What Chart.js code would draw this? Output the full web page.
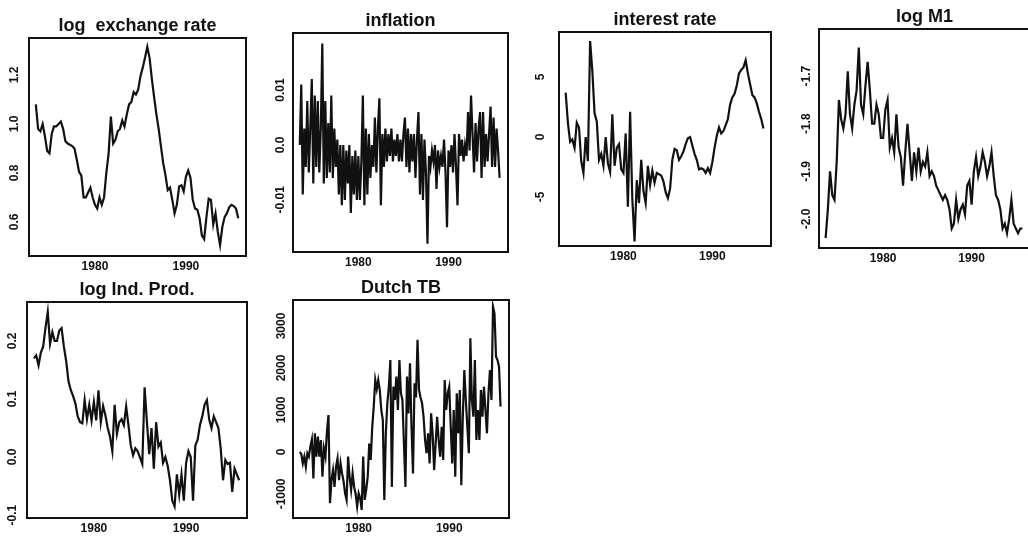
<!DOCTYPE html>
<html>
<head>
<meta charset="utf-8">
<script src="https://cdn.jsdelivr.net/npm/chart.js@4.4.1/dist/chart.umd.min.js"></script>
<style>
  html, body { margin: 0; padding: 0; background: #fff; overflow: hidden; }
  body { width: 1028px; height: 538px; position: relative; }
  .panel { position: absolute; }
</style>
</head>
<body>
<script>
// values; smooth series quarterly, noisy ones every two months
const firstObs = 1973.5;
const xTicks = [1980, 1990];

const exchangeRate = [
  1.08, 0.98, 0.97, 1.00, 0.95, 0.89, 0.88, 0.96, 0.99, 0.99,
  1.00, 1.01, 0.98, 0.93, 0.92, 0.915, 0.91, 0.90, 0.855, 0.805,
  0.79, 0.70, 0.70, 0.72, 0.74, 0.70, 0.67, 0.655, 0.70, 0.67,
  0.70, 0.80, 0.88, 1.03, 0.92, 0.935, 0.97, 0.98, 1.015, 0.99,
  1.04, 1.08, 1.09, 1.13, 1.12, 1.14, 1.195, 1.23, 1.27, 1.315,
  1.27, 1.185, 1.11, 1.04, 0.98, 0.91, 0.84, 0.79, 0.73, 0.74,
  0.69, 0.635, 0.67, 0.745, 0.75, 0.725, 0.785, 0.81, 0.78, 0.69,
  0.655, 0.65, 0.615, 0.545, 0.53, 0.62, 0.695, 0.69, 0.59, 0.635,
  0.56, 0.505, 0.58, 0.62, 0.635, 0.66, 0.67, 0.665, 0.655, 0.615
];
const inflation = [
  0.000, 0.011, -0.009, 0.003, -0.004, 0.008, -0.005, 0.003, 0.012, -0.007,
  0.009, -0.004, 0.008, -0.005, 0.003, 0.0185, -0.007, 0.008, -0.006, 0.004,
  -0.005, 0.009, -0.006, 0.003, -0.004, 0.001, -0.009, 0.000, -0.011, 0.000,
  -0.010, -0.001, -0.007, 0.000, -0.0124, -0.002, -0.009, -0.001, -0.010, -0.002,
  -0.010, -0.003, 0.009, -0.011, 0.003, -0.009, 0.002, -0.006, 0.000, -0.004,
  0.005, -0.005, 0.003, 0.0085, -0.011, 0.002, -0.004, 0.003, -0.003, 0.002,
  -0.002, 0.003, -0.003, 0.001, -0.002, 0.002, -0.003, 0.001, -0.003, 0.002,
  0.005, -0.004, 0.003, -0.005, 0.002, -0.003, 0.002, -0.006, 0.001, 0.006,
  -0.009, 0.002, -0.010, 0.001, -0.005, -0.018, -0.002, -0.004, -0.001, -0.003,
  0.000, -0.008, -0.001, -0.004, -0.002, -0.004, 0.001, -0.005, -0.015, -0.001,
  -0.004, 0.000, -0.005, 0.002, -0.004, -0.011, 0.002, -0.002, 0.001, -0.003,
  0.000, -0.002, 0.006, -0.001, 0.009, 0.002, -0.005, 0.004, -0.003, 0.003,
  0.006, -0.006, 0.006, -0.004, 0.002, -0.003, 0.002, 0.007, -0.004, 0.005,
  -0.004, 0.003, -0.001, -0.006
];
const interestRate = [
  3.7, 1.2, -0.4, -0.2, -0.9, 1.2, 0.8, -2.0, -3.0, 0.0,
  -2.0, 8.0, 5.5, 2.0, 1.3, -1.9, -1.4, -2.4, 0.0, -2.2,
  -2.9, 1.9, -2.4, -0.9, -0.6, -2.7, -3.0, 0.3, -5.8, 2.1,
  -5.2, -8.7, -3.6, -5.5, -1.9, -4.5, -5.5, -2.4, -4.0, -2.8,
  -3.8, -3.0, -3.1, -3.2, -3.7, -4.6, -5.1, -4.3, -1.9, -1.0,
  -1.1, -1.9, -1.6, -1.2, -0.6, -0.1, 0.0, -0.7, -1.4, -1.9,
  -2.7, -2.6, -2.7, -3.0, -2.6, -3.0, -2.1, -0.9, 0.1, 0.8,
  0.3, 0.5, 1.0, 1.5, 2.7, 3.3, 3.6, 4.3, 5.3, 5.6,
  5.8, 6.4, 5.3, 4.4, 3.5, 3.3, 2.8, 2.1, 1.5, 0.7
];
const logM1 = [
  -2.04, -1.98, -1.90, -1.95, -1.96, -1.88, -1.75, -1.79, -1.81, -1.78,
  -1.69, -1.78, -1.81, -1.76, -1.73, -1.64, -1.76, -1.78, -1.72, -1.67,
  -1.73, -1.80, -1.80, -1.76, -1.78, -1.83, -1.83, -1.77, -1.75, -1.85,
  -1.83, -1.86, -1.78, -1.85, -1.87, -1.93, -1.86, -1.80, -1.86, -1.92,
  -1.86, -1.90, -1.85, -1.90, -1.88, -1.89, -1.86, -1.91, -1.90, -1.91,
  -1.93, -1.94, -1.95, -1.96, -1.95, -1.96, -1.98, -2.02, -2.01, -1.96,
  -2.00, -1.98, -1.97, -1.99, -1.93, -1.92, -1.97, -1.90, -1.87, -1.91,
  -1.89, -1.86, -1.88, -1.91, -1.89, -1.86, -1.91, -1.95, -1.96, -1.98,
  -2.02, -2.01, -2.03, -2.00, -1.96, -2.01, -2.02, -2.03, -2.02, -2.02
];
const logIndProd = [
  0.170, 0.175, 0.158, 0.180, 0.190, 0.222, 0.250, 0.195, 0.215, 0.200,
  0.200, 0.218, 0.222, 0.190, 0.165, 0.130, 0.115, 0.105, 0.092, 0.070,
  0.060, 0.058, 0.098, 0.065, 0.090, 0.063, 0.095, 0.063, 0.115, 0.060,
  0.088, 0.072, 0.050, 0.035, 0.010, 0.090, 0.040, 0.060, 0.065, 0.055,
  0.087, 0.055, 0.020, 0.003, 0.015, 0.010, -0.001, -0.012, 0.120, 0.060,
  0.005, 0.050, -0.020, 0.060, 0.018, 0.025, -0.010, 0.000, -0.015, -0.040,
  -0.075, -0.085, -0.030, -0.065, -0.030, -0.075, -0.010, 0.010, 0.000, -0.075,
  0.020, 0.030, 0.055, 0.070, 0.090, 0.098, 0.065, 0.050, 0.070, 0.060,
  0.050, 0.015, -0.040, -0.005, -0.012, -0.010, -0.060, -0.020, -0.030, -0.040
];
const dutchTB = [
  0, -50, -270, -110, -350, -30, -110, 127, 300, -630,
  445, -110, 365, -110, 285, -590, 87, -110, 500, 880,
  -1220, -670, -430, -830, -350, -150, -670, -270, -510, -700,
  -985, -1140, -110, -590, -900, -510, -830, -1000, -1300, -985,
  -1100, -1380, -110, -1140, -900, -590, 200, -190, 600, 1080,
  1715, 1500, 1715, 1475, 1000, 760, -1140, 445, 1160, 1555,
  2190, -830, 1555, 1240, 1795, 1000, 2190, 1400, 1240, 200,
  -830, 1795, 920, 2110, 600, -510, 1635, 1300, 2670, 1475,
  1300, 1160, 840, 285, -30, 445, -270, 920, 445, -430,
  200, 840, 285, -110, 600, -190, 1715, 1000, 1400, 1555,
  600, -270, 1000, -590, 1400, 445, 1475, -790, 840, 1950,
  1240, 600, -30, 2710, 1240, 840, 2190, 285, 1000, 285,
  1475, 840, 1555, 1000, 445, 1400, 1950, 1240, 3460, 3300,
  2270, 2190, 2030, 1080
];

const exchangeTicks = [0.6, 0.8, 1.0, 1.2];
const exchangeTickLabels = ['0.6', '0.8', '1.0', '1.2'];
const inflationTicks = [-0.01, 0, 0.01];
const inflationTickLabels = ['-0.01', '0.0', '0.01'];
const interestTicks = [-5, 0, 5];
const interestTickLabels = ['-5', '0', '5'];
const m1Ticks = [-2.0, -1.9, -1.8, -1.7];
const m1TickLabels = ['-2.0', '-1.9', '-1.8', '-1.7'];
const indProdTicks = [-0.1, 0, 0.1, 0.2];
const indProdTickLabels = ['-0.1', '0.0', '0.1', '0.2'];
const tbTicks = [-1000, 0, 1000, 2000, 3000];
const tbTickLabels = ['-1000', '0', '1000', '2000', '3000'];

const quarterDates = exchangeRate.map((_, i) => firstObs + i / 4);
const bimonthDates = inflation.map((_, i) => firstObs + i / 6);

// layout: box = [left, top, right, bottom] of the plot frame in page pixels
const panels = [
    { title: 'log  exchange rate', values: exchangeRate, dates: quarterDates,
      ticks: exchangeTicks, labels: exchangeTickLabels,
      yMin: 0.461, yMax: 1.351, box: [29, 38, 246, 256], gap: 14 },
    { title: 'inflation', values: inflation, dates: bimonthDates,
      ticks: inflationTicks, labels: inflationTickLabels,
      yMin: -0.0195, yMax: 0.0204, box: [293, 33, 508, 252], gap: 12 },
    { title: 'interest rate', values: interestRate, dates: quarterDates,
      ticks: interestTicks, labels: interestTickLabels,
      yMin: -9.08, yMax: 8.75, box: [559, 32, 771, 246], gap: 18 },
    { title: 'log M1', values: logM1, dates: quarterDates,
      ticks: m1Ticks, labels: m1TickLabels,
      yMin: -2.061, yMax: -1.601, box: [819, 29, 1030, 248], gap: 12 },
    { title: 'log Ind. Prod.', values: logIndProd, dates: quarterDates,
      ticks: indProdTicks, labels: indProdTickLabels,
      yMin: -0.105, yMax: 0.267, box: [27, 302, 247, 518], gap: 14 },
    { title: 'Dutch TB', values: dutchTB, dates: bimonthDates,
      ticks: tbTicks, labels: tbTickLabels,
      yMin: -1571, yMax: 3619, box: [293, 300, 509, 518], gap: 11 }
];

const X_MIN = 1972.75, X_MAX = 1996.6;
const PAD_L = 32, PAD_R = 4, TITLE_H = 24, XAXIS_H = 24;
const FONT = '"Liberation Sans", Arial, Helvetica, sans-serif';
const INK = '#111';

// R-style frame plus y labels written parallel to the axis
function framePlugin(p) {
    return {
        id: 'frame',
        afterDraw(chart) {
            const { ctx, chartArea: a } = chart;
            const yScale = chart.scales.y;
            ctx.save();
            ctx.strokeStyle = INK;
            ctx.lineWidth = 2;
            ctx.strokeRect(a.left, a.top, a.right - a.left, a.bottom - a.top);

            ctx.fillStyle = INK;
            ctx.font = 'bold 12px ' + FONT;
            ctx.textAlign = 'center';
            ctx.textBaseline = 'middle';
            p.ticks.forEach((v, i) => {
                const y = yScale.getPixelForValue(v);
                ctx.save();
                ctx.translate(a.left - p.gap, y);
                ctx.rotate(-Math.PI / 2);
                ctx.fillText(p.labels[i], 0, 0);
                ctx.restore();
            });
            ctx.restore();
        }
    };
}

panels.forEach(function (p) {
    const [L, T, R, B] = p.box;
    const div = document.createElement('div');
    div.className = 'panel';
    div.style.left = (L - PAD_L) + 'px';
    div.style.top = (T - TITLE_H) + 'px';
    div.style.width = (R - L + PAD_L + PAD_R) + 'px';
    div.style.height = (B - T + TITLE_H + XAXIS_H) + 'px';
    const canvas = document.createElement('canvas');
    div.appendChild(canvas);
    document.body.appendChild(div);

    new Chart(canvas, {
        type: 'line',
        data: {
            datasets: [{
                data: p.values.map((v, i) => ({ x: p.dates[i], y: v })),
                borderColor: INK,
                borderWidth: 2.2,
                pointRadius: 0,
                tension: 0,
                fill: false
            }]
        },
        options: {
            responsive: true,
            maintainAspectRatio: false,
            animation: false,
            layout: { padding: { left: PAD_L, right: PAD_R, top: 0, bottom: 0 } },
            scales: {
                x: {
                    type: 'linear',
                    min: X_MIN,
                    max: X_MAX,
                    afterBuildTicks: s => { s.ticks = xTicks.map(v => ({ value: v })); },
                    afterFit: s => { s.height = XAXIS_H; },
                    grid: { display: false, drawTicks: false },
                    border: { display: false },
                    ticks: {
                        padding: 3,
                        color: INK,
                        autoSkip: false,
                        maxRotation: 0,
                        font: { family: FONT, size: 12, weight: 'bold' },
                        callback: v => String(v)
                    }
                },
                y: { display: false, min: p.yMin, max: p.yMax }
            },
            plugins: {
                legend: { display: false },
                tooltip: { enabled: false },
                title: {
                    display: true,
                    text: p.title,
                    color: INK,
                    font: { family: FONT, size: 18, weight: 'bold', lineHeight: 24 / 18 },
                    padding: { top: 0, bottom: 0 }
                }
            }
        },
        plugins: [framePlugin(p)]
    });
});
</script>
</body>
</html>
